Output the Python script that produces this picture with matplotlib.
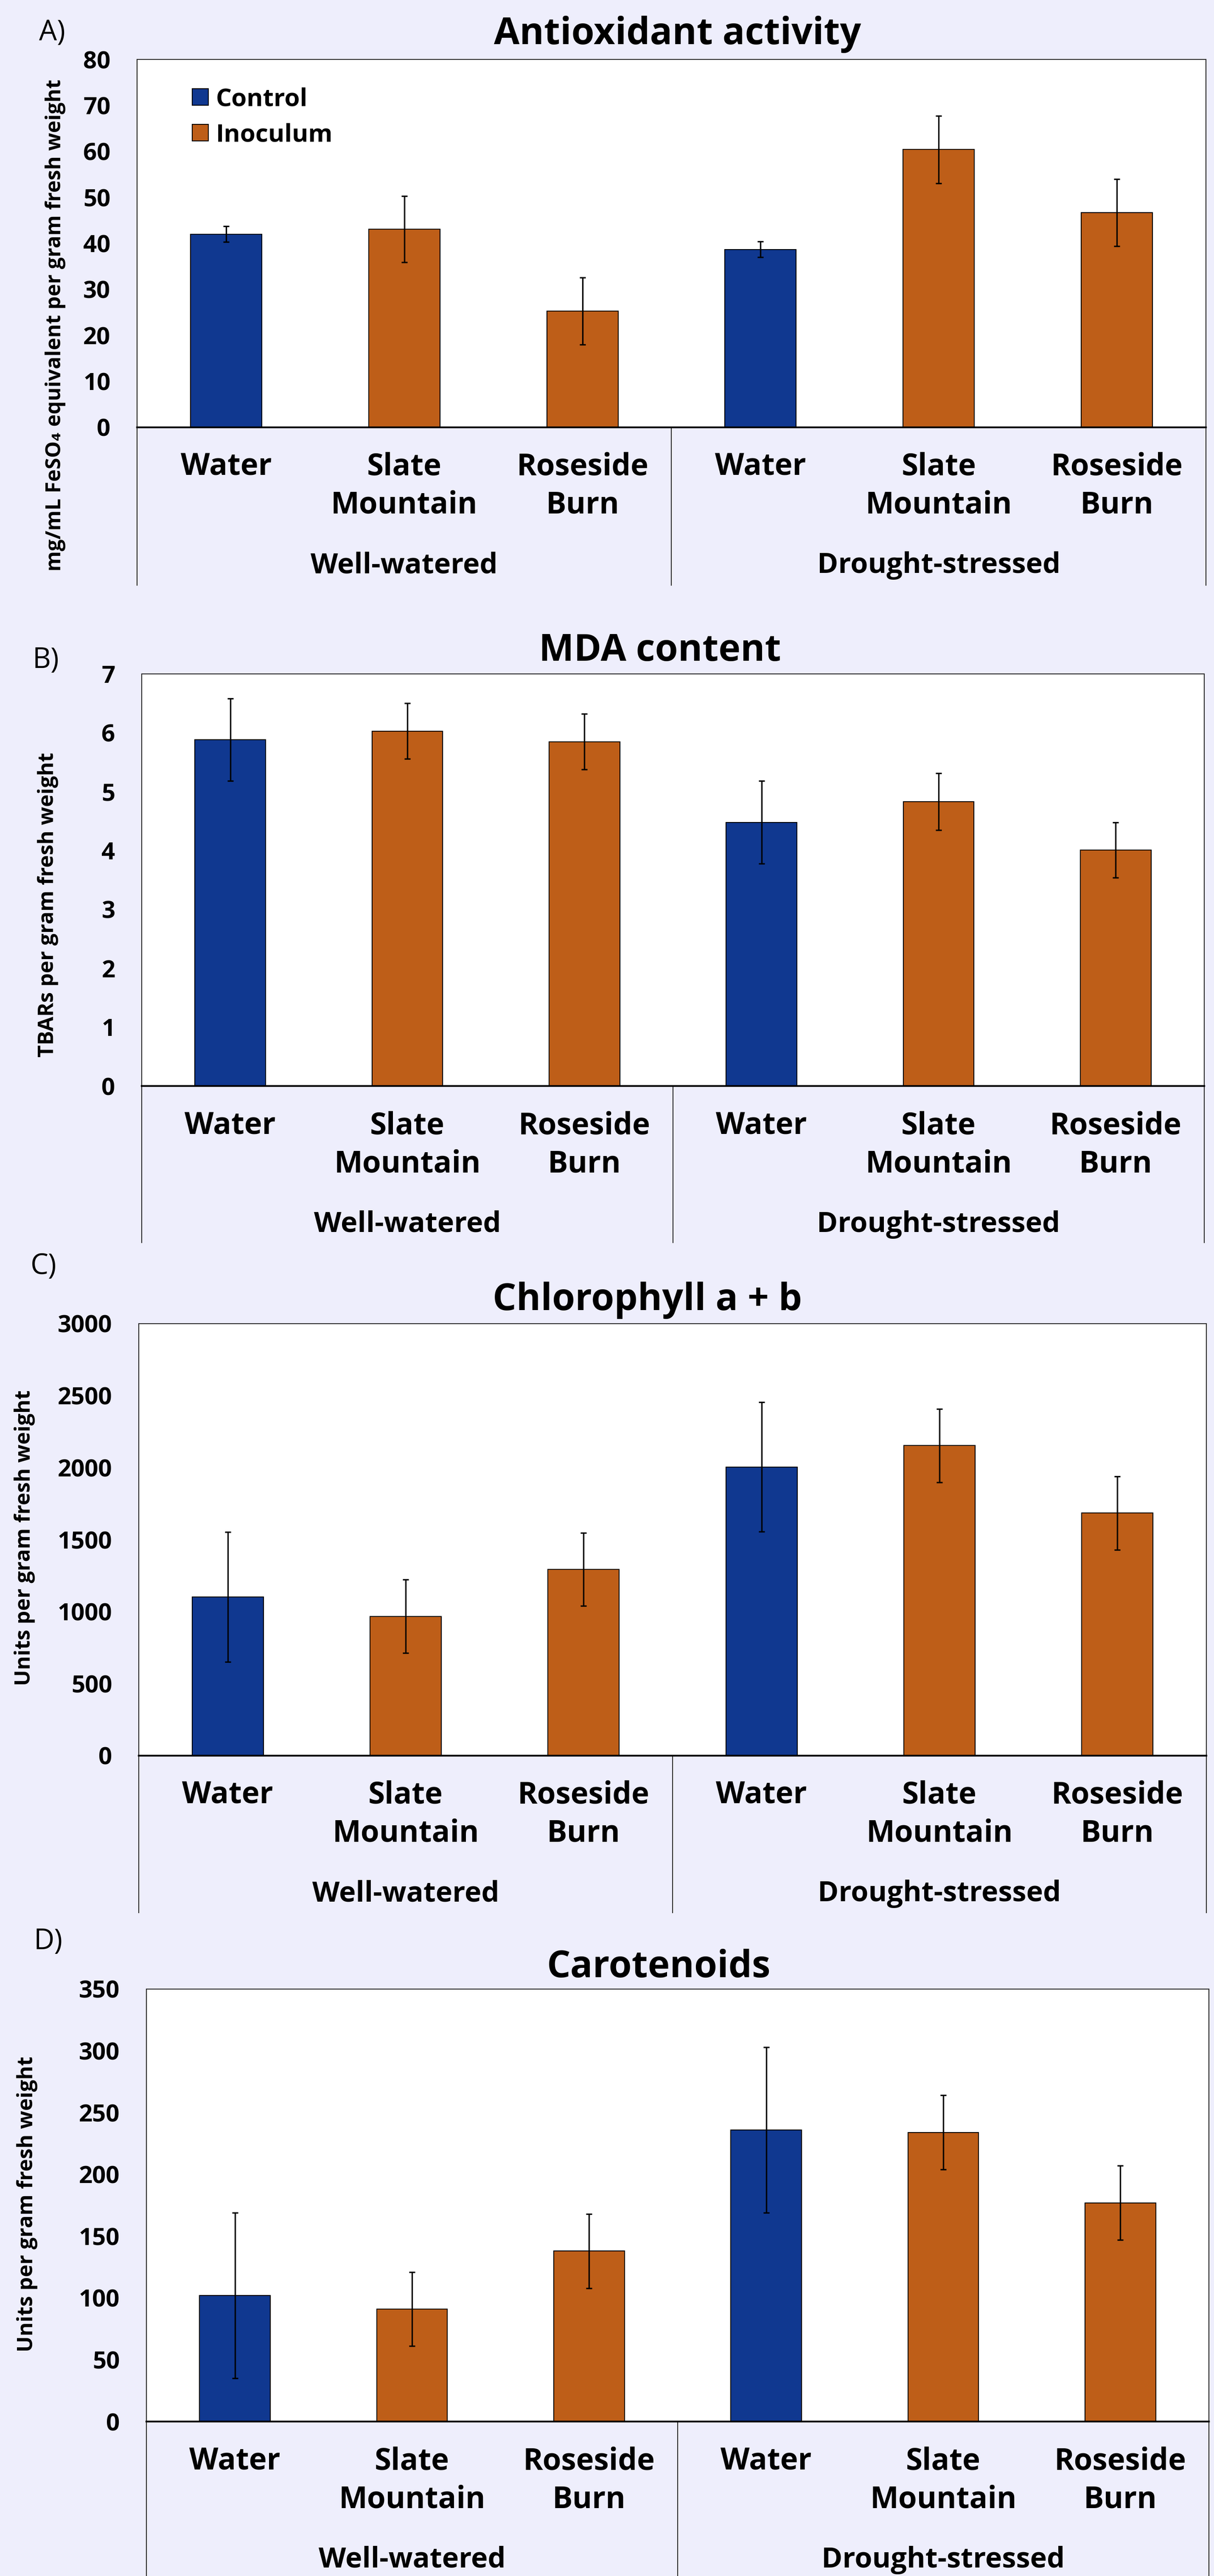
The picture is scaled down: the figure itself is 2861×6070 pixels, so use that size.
import matplotlib
matplotlib.use('Agg')
import matplotlib.pyplot as plt
from matplotlib.patches import Patch

W, H = 2862, 6070
DPI = 300

plt.rcParams['font.family'] = ['Open Sans', 'DejaVu Sans']

BG = '#EEEEFC'
BLUE = '#103890'
ORANGE = '#BE5E18'

# data
categories = ['Water', 'Slate\nMountain', 'Roseside\nBurn'] * 2
groups = ['Well-watered', 'Drought-stressed']
treatment = ['Control', 'Inoculum', 'Inoculum', 'Control', 'Inoculum', 'Inoculum']

antiox_mean = [42.0, 43.1, 25.3, 38.7, 60.4, 46.7]
antiox_err = [1.7, 7.2, 7.3, 1.7, 7.3, 7.3]
mda_mean = [5.88, 6.03, 5.85, 4.48, 4.83, 4.01]
mda_err = [0.70, 0.47, 0.47, 0.70, 0.48, 0.47]
chl_mean = [1102, 968, 1294, 2005, 2154, 1685]
chl_err = [451, 254, 254, 449, 255, 255]
car_mean = [102, 91, 138, 236, 234, 177]
car_err = [67, 30, 30, 67, 30, 30]

colors = [BLUE if t == 'Control' else ORANGE for t in treatment]

# panel layout in pixels: left, top, right, zero line, bottom of category area
panels = [
    dict(tag='A)', tag_xy=(92, 95), title='Antioxidant activity', title_xy=(1597, 104),
         ylabel='mg/mL FeSO\u2084 equivalent per gram fresh weight', ylabel_xy=(131, 766), ylabel_size=11.8,
         mean=antiox_mean, err=antiox_err, ymax=80, step=10,
         box=(323, 140, 2842, 1007, 1379), legend=True),
    dict(tag='B)', tag_xy=(77, 1574), title='MDA content', title_xy=(1555, 1557),
         ylabel='TBARs per gram fresh weight', ylabel_xy=(113, 2132), ylabel_size=12,
         mean=mda_mean, err=mda_err, ymax=7, step=1,
         box=(334, 1588, 2838, 2559, 2928), legend=False),
    dict(tag='C)', tag_xy=(72, 3002), title='Chlorophyll a + b', title_xy=(1526, 3087),
         ylabel='Units per gram fresh weight', ylabel_xy=(58, 3624), ylabel_size=12,
         mean=chl_mean, err=chl_err, ymax=3000, step=500,
         box=(327, 3119, 2843, 4137, 4507), legend=False),
    dict(tag='D)', tag_xy=(80, 4593), title='Carotenoids', title_xy=(1553, 4659),
         ylabel='Units per gram fresh weight', ylabel_xy=(64, 5194), ylabel_size=12,
         mean=car_mean, err=car_err, ymax=350, step=50,
         box=(345, 4687, 2849, 5706, 6070), legend=False),
]

fig = plt.figure(figsize=(W / DPI, H / DPI), dpi=DPI, facecolor=BG)


def fx(px):
    return px / W


def fy(py):
    return 1 - py / H


for p in panels:
    left, top, right, zero, bottom = p['box']
    ax = fig.add_axes([fx(left), fy(zero), (right - left) / W, (zero - top) / H])
    ax.set_facecolor('white')

    x = list(range(len(categories)))
    ax.bar(x, p['mean'], width=0.4, color=colors, edgecolor='black', linewidth=0.5,
           yerr=p['err'], error_kw=dict(ecolor='black', elinewidth=0.8, capsize=1.6, capthick=0.8),
           zorder=2)
    ax.set_xlim(-0.5, 5.5)
    ax.set_ylim(0, p['ymax'])
    ax.set_yticks(range(0, p['ymax'] + 1, p['step']))
    ax.set_xticks([])
    ax.tick_params(axis='y', length=0, pad=15, labelsize=13.5)
    for lab in ax.get_yticklabels():
        lab.set_fontweight('bold')
    for s in ['top', 'left', 'right']:
        ax.spines[s].set_linewidth(0.5)
        ax.spines[s].set_color('#222222')
    ax.spines['bottom'].set_linewidth(1.0)
    ax.spines['bottom'].set_color('black')

    # category labels and group labels below the zero line
    ax_px = zero - top
    trans = ax.get_xaxis_transform()
    for i, c in enumerate(categories):
        lines = c.split('\n')
        for j, line in enumerate(lines):
            off = (94 + 90 * j) / ax_px
            ax.text(i, -off, line, transform=trans, ha='center', va='center',
                    fontsize=17, fontweight='bold', clip_on=False)
    for g, name in enumerate(groups):
        ax.text(1 + 3 * g, -326 / ax_px, name, transform=trans, ha='center', va='center',
                fontsize=16, fontweight='bold', clip_on=False)
    depth = (bottom - zero) / ax_px
    for xv in [-0.5, 2.5, 5.5]:
        ax.plot([xv, xv], [0, -depth], transform=trans, color='#222222', lw=0.5, clip_on=False)

    if p['legend']:
        handles = [Patch(facecolor=BLUE, edgecolor='black', linewidth=0.5, label='Control'),
                   Patch(facecolor=ORANGE, edgecolor='black', linewidth=0.5, label='Inoculum')]
        ax.legend(handles=handles, loc='upper left',
                  bbox_to_anchor=((453 - left) / (right - left), 1 - (205 - top) / ax_px),
                  frameon=False, borderpad=0, borderaxespad=0, handlelength=0.65,
                  handleheight=0.65, handletextpad=0.3, labelspacing=0.45,
                  prop=dict(size=14, weight='bold'))

    fig.text(fx(p['tag_xy'][0]), fy(p['tag_xy'][1]), p['tag'], ha='left', va='baseline',
             fontsize=16)
    fig.text(fx(p['title_xy'][0]), fy(p['title_xy'][1]), p['title'], ha='center', va='baseline',
             fontsize=21, fontweight='bold')
    fig.text(fx(p['ylabel_xy'][0]), fy(p['ylabel_xy'][1]), p['ylabel'], ha='center', va='center',
             rotation=90, fontsize=p['ylabel_size'], fontweight='bold')

fig.savefig('out.png', dpi=DPI, facecolor=BG)
